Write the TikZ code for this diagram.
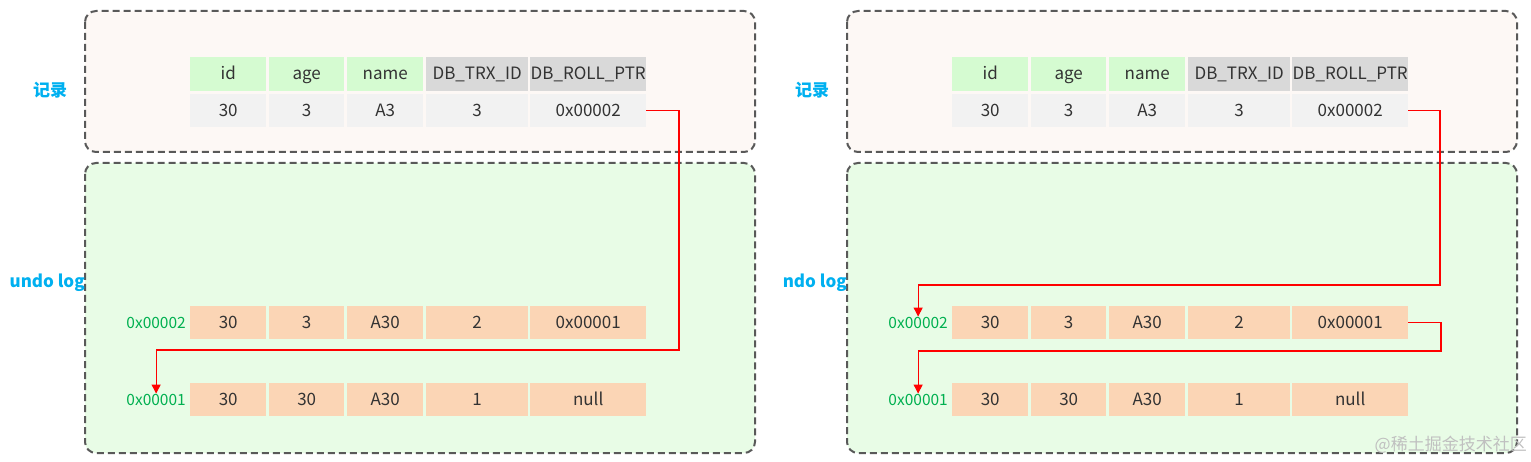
\documentclass[tikz,border=0pt]{standalone}
\usepackage{fontspec}
\setmainfont{Noto Sans CJK SC}
\usetikzlibrary{positioning, calc, arrows.meta}
\definecolor{boxgray}{HTML}{595959}
\definecolor{recfill}{HTML}{FDF8F5}
\definecolor{logfill}{HTML}{E8FCE6}
\definecolor{hgreen}{HTML}{D5FBD1}
\definecolor{hgray}{HTML}{D9D9D9}
\definecolor{dgray}{HTML}{F2F2F2}
\definecolor{ufill}{HTML}{FBD5B5}
\definecolor{celltext}{HTML}{333333}
\definecolor{addrgreen}{HTML}{00B050}
\definecolor{tagblue}{HTML}{00B0F0}
\definecolor{ptrred}{HTML}{FF0000}
\definecolor{wmgray}{HTML}{C0C0C0}
\tikzset{
  x = 1pt, y = -1pt,
  > = {Triangle[width = 9pt, length = 9pt]},
  panel/.style = {draw = boxgray, line width = 2pt,
    dash pattern = on 7pt off 4pt, rounded corners = 11pt},
  cell/.style = {inner sep = 0pt, minimum height = 33pt, anchor = west,
    text = celltext, text height = 13pt, text depth = 1.5pt,
    font = \fontsize{17}{17}\selectfont},
  head/.style = {cell, minimum height = 34pt},
  addr/.style = {text = addrgreen, inner sep = 0pt,
    font = \fontsize{15.5}{15.5}\selectfont},
  tag/.style = {text = tagblue, inner sep = 0pt,
    font = \fontsize{17}{17}\selectfont\bfseries},
  pointer/.style = {->, draw = ptrred, line width = 1.1pt}
}

\begin{document}
\begin{tikzpicture}
\useasboundingbox (0, 0) rectangle (1531, 462);

%% Panels
\foreach \p/\dx/\undo in {L/0/undo log, R/762/ndo log} {
\begin{scope}[shift = {(\dx, 0)}]
  \path [panel, fill = recfill] (85, 11) rectangle (755, 152);
  \path [panel, fill = logfill] (85, 163) rectangle (755, 453);

  %% Record
  \foreach \c/\x/\w/\t/\f in {1/190/76/id/hgreen, 2/269/75/age/hgreen,
      3/347/76/name/hgreen, 4/426/102/DB\_TRX\_ID/hgray, 5/530/116/DB\_ROLL\_PTR/hgray}
    \node [head, fill = \f, minimum width = \w] (\p-h\c) at (\x, 74) {\t};
  \foreach \c/\x/\w/\t in {1/190/76/30, 2/269/75/3, 3/347/76/A3,
      4/426/102/3, 5/530/116/0x00002}
    \node [cell, fill = dgray, minimum width = \w] (\p-d\c) at (\x, 110.5) {\t};

  %% Undo log
  \foreach \c/\x/\w/\t in {1/190/76/30, 2/269/75/3, 3/347/76/A30,
      4/426/102/2, 5/530/116/0x00001}
    \node [cell, fill = ufill, minimum width = \w] (\p-u2\c) at (\x, 322.5) {\t};
  \foreach \c/\x/\w/\t in {1/190/76/30, 2/269/75/30, 3/347/76/A30,
      4/426/102/1, 5/530/116/null}
    \node [cell, fill = ufill, minimum width = \w] (\p-u1\c) at (\x, 399.5) {\t};

  %% Labels
  \node [addr, left = 4pt of \p-u21] (\p-a2) {0x00002};
  \node [addr, left = 4pt of \p-u11] (\p-a1) {0x00001};
  \node [tag] (\p-rec) at (50, 90) {记录};
  \node [tag, anchor = east] (\p-log) at (85, 283) {\undo};
\end{scope}
}

%% Pointers
\coordinate (L-k1) at (679, 350);
\draw [pointer] (L-d5.east) -| (L-k1) -| (L-a1.north);

\coordinate (R-k1) at (1440, 285);
\coordinate (R-k2) at (1441, 351);
\draw [pointer] (R-d5.east) -| (R-k1) -| (R-a2.north);
\draw [pointer] (R-u25.east) -| (R-k2) -| (R-a1.north);

%% Watermark
\node [text = wmgray, inner sep = 0pt, anchor = east,
  font = \fontsize{17}{17}\selectfont] (wm) at (1527, 445) {@稀土掘金技术社区};

\end{tikzpicture}
\end{document}
